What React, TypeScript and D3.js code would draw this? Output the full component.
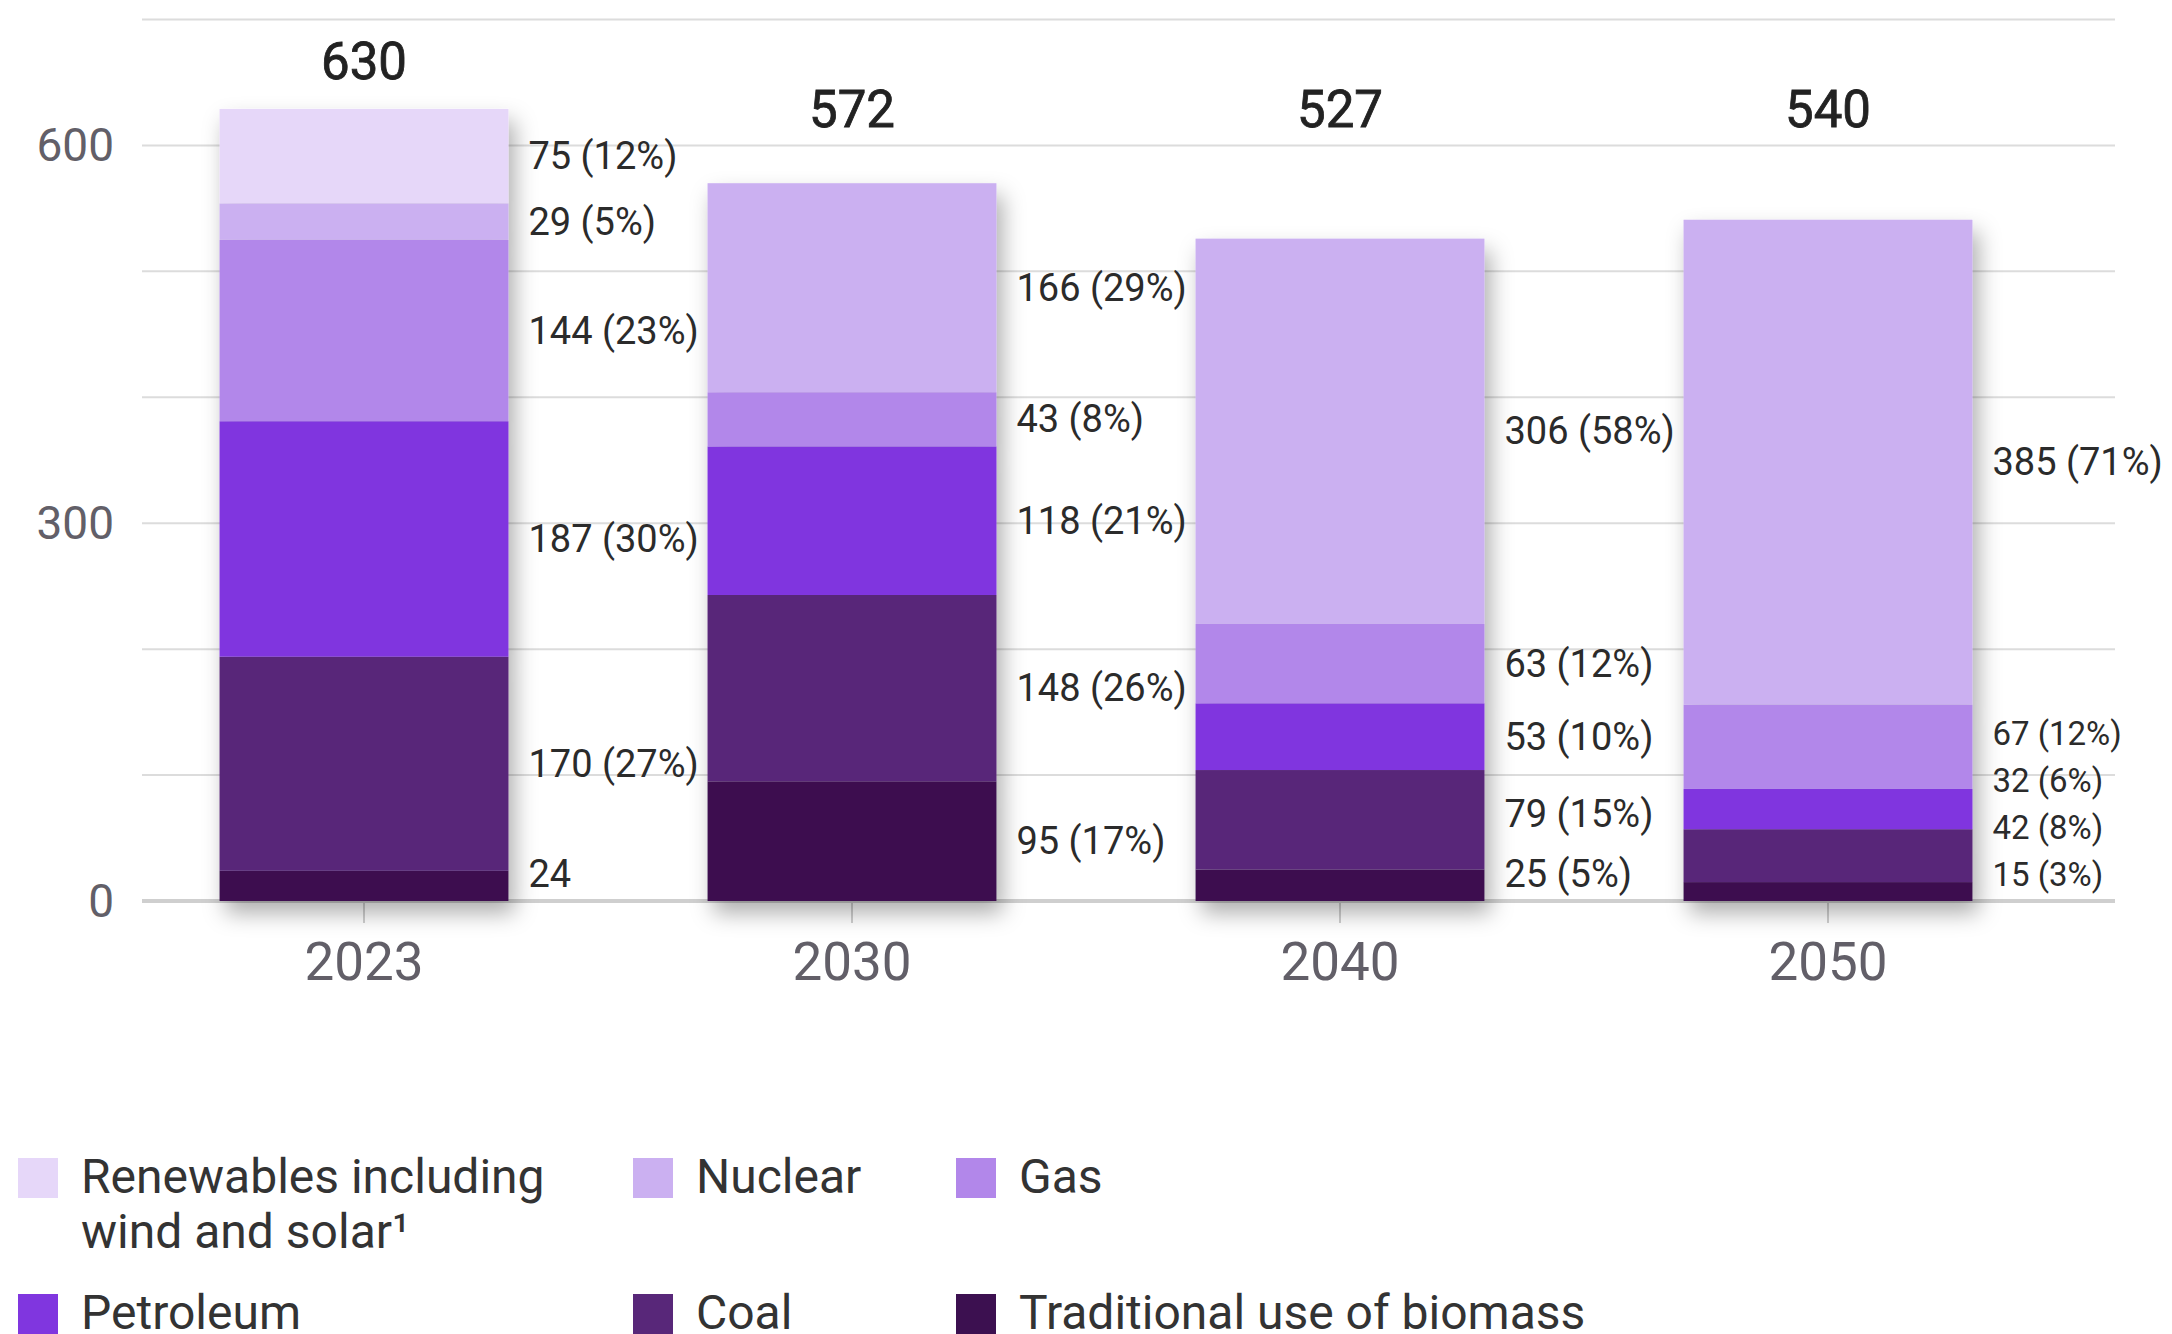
import { useEffect } from 'react'
import * as d3 from 'd3'

const years = ['2023', '2030', '2040', '2050']
const totals = [630, 572, 527, 540]

// stacked bottom -> top
const keys = ['biomass', 'coal', 'petroleum', 'gas', 'nuclear', 'renewables']
const biomass = [24, 95, 25, 15]
const coal = [170, 148, 79, 42]
const petroleum = [187, 118, 53, 32]
const gas = [144, 43, 63, 67]
const nuclear = [29, 166, 306, 385]
const renewables = [75, 0, 0, 0]

const biomassPct = [null, 17, 5, 3]
const coalPct = [27, 26, 15, 8]
const petroleumPct = [30, 21, 10, 6]
const gasPct = [23, 8, 12, 12]
const nuclearPct = [5, 29, 58, 71]
const renewablesPct = [12, null, null, null]

const yTicks = [0, 300, 600]
const gridValues = [0, 100, 200, 300, 400, 500, 600, 700]

const colors: Record<string, string> = {
  renewables: '#e6d7f9',
  nuclear: '#cbb0f1',
  gas: '#b287ea',
  petroleum: '#8036df',
  coal: '#582779',
  biomass: '#3c1050',
}

const legendRows = [
  [
    { key: 'renewables', lines: ['Renewables including', 'wind and solar¹'] },
    { key: 'nuclear', lines: ['Nuclear'] },
    { key: 'gas', lines: ['Gas'] },
  ],
  [
    { key: 'petroleum', lines: ['Petroleum'] },
    { key: 'coal', lines: ['Coal'] },
    { key: 'biomass', lines: ['Traditional use of biomass'] },
  ],
]

const compactYears = ['2050']

const W = 2172
const H = 1334
const FONT = 'Roboto, "Open Sans", sans-serif'

export default function App() {
  useEffect(() => {
    document.body.style.margin = '0'
  }, [])

  const values: Record<string, number[]> = { biomass, coal, petroleum, gas, nuclear, renewables }
  const pcts: Record<string, (number | null)[]> = {
    biomass: biomassPct, coal: coalPct, petroleum: petroleumPct,
    gas: gasPct, nuclear: nuclearPct, renewables: renewablesPct,
  }

  const rows = years.map((yr, i) => {
    const r: any = { year: yr }
    keys.forEach(k => { r[k] = values[k][i] })
    return r
  })
  const series = d3.stack<any>().keys(keys)(rows)

  const x = d3.scaleBand<string>()
    .domain(years)
    .range([120, 2072])
    .paddingInner(0.408)
    .paddingOuter(0.204)
  const y = d3.scaleLinear().domain([0, 700]).range([901, 19.5])

  const gridLeft = 142
  const gridRight = 2115

  // value labels: segment centers, pushed up to avoid overlap
  const labels: any[] = []
  years.forEach((yr, i) => {
    const compact = compactYears.includes(yr)
    let prev = y(0) - 27
    keys.forEach(k => {
      const s = series.find(sr => sr.key === k)!
      const [y0, y1] = s[i]
      const v = values[k][i]
      if (!v) return
      const small = compact && v < 100
      const gap = small ? 47 : 60
      const center = (y(y0) + y(y1)) / 2
      const ly = Math.min(center, prev)
      prev = ly - gap
      const p = pcts[k][i]
      labels.push({
        x: x(yr)! + x.bandwidth() + 20,
        y: ly,
        size: small ? 33 : 38,
        text: p == null ? `${v}` : `${v} (${p}%)`,
      })
    })
  })

  return (
    <div style={{ position: 'absolute', left: 0, top: 0 }}>
      <svg width={W} height={H} style={{ display: 'block', fontFamily: FONT }}>
        <defs>
          <filter id="barShadow" x="-30%" y="-30%" width="160%" height="160%">
            <feDropShadow dx="6" dy="12" stdDeviation="11" floodColor="#000" floodOpacity="0.32" />
          </filter>
        </defs>
        <rect width={W} height={H} fill="#fff" />

        {gridValues.map(v => (
          <line key={v} x1={gridLeft} x2={gridRight} y1={y(v)} y2={y(v)}
            stroke={v === 0 ? '#cfcfcf' : '#dcdcdc'} strokeWidth={v === 0 ? 4 : 2} />
        ))}
        {yTicks.map(v => (
          <text key={v} x={114} y={y(v)} textAnchor="end" dominantBaseline="central"
            fontSize={46} fill="#625f68">{v}</text>
        ))}
        {years.map(yr => (
          <g key={yr}>
            <line x1={x(yr)! + x.bandwidth() / 2} x2={x(yr)! + x.bandwidth() / 2}
              y1={y(0)} y2={y(0) + 22} stroke="#cfcfcf" strokeWidth={2} />
            <text x={x(yr)! + x.bandwidth() / 2} y={980} textAnchor="middle"
              fontSize={53} fill="#625f68">{yr}</text>
          </g>
        ))}

        {years.map((yr, i) => (
          <g key={yr} filter="url(#barShadow)">
            {series.map(s => {
              const [y0, y1] = s[i]
              if (y1 - y0 <= 0) return null
              return (
                <rect key={s.key} x={x(yr)} width={x.bandwidth()}
                  y={y(y1)} height={y(y0) - y(y1)} fill={colors[s.key]} />
              )
            })}
          </g>
        ))}

        {years.map((yr, i) => {
          const top = d3.max(series, s => s[i][1])!
          return (
            <text key={yr} x={x(yr)! + x.bandwidth() / 2}
              y={Math.min(y(615), y(top) - 30)} textAnchor="middle"
              fontSize={51} fontWeight={400} fill="#222" stroke="#222" strokeWidth={0.8}>{totals[i]}</text>
          )
        })}

        {labels.map((l, i) => (
          <text key={i} x={l.x} y={l.y} dominantBaseline="central"
            fontSize={l.size} fill="#2b2b2b">{l.text}</text>
        ))}

        {legendRows.map((row, ri) =>
          row.map((item, ci) => {
            const sx = [18, 633, 956][ci]
            const sy = ri === 0 ? 1158 : 1294
            return (
              <g key={item.key}>
                <rect x={sx} y={sy} width={40} height={40} fill={colors[item.key]} />
                {item.lines.map((ln, li) => (
                  <text key={li} x={sx + 63} y={sy + 35 + li * 55}
                    fontSize={48} fill="#333">{ln}</text>
                ))}
              </g>
            )
          })
        )}
      </svg>
    </div>
  )
}
